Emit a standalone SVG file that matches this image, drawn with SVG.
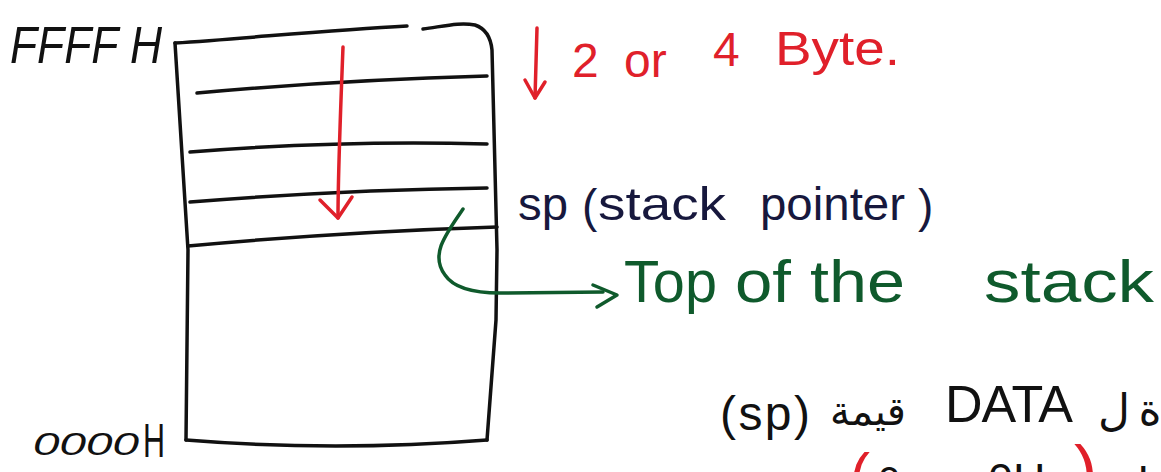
<svg xmlns="http://www.w3.org/2000/svg" width="1161" height="472" viewBox="0 0 1161 472">
<style>
.ln{fill:none;stroke:#111;stroke-width:3.5;stroke-linecap:round;stroke-linejoin:round}
.red{fill:none;stroke:#e0202a;stroke-width:3.5;stroke-linecap:round;stroke-linejoin:round}
.grn{fill:none;stroke:#0f5a2c;stroke-width:3.5;stroke-linecap:round;stroke-linejoin:round}
.t{font-family:"Liberation Sans","DejaVu Sans",sans-serif}
.ar{font-family:"DejaVu Sans","Noto Sans",sans-serif}
.rt{fill:#e0202a;font-size:48px}
.nv{fill:#17183d;font-size:46px}
.gt{fill:#0f5a2c;font-size:60px}
</style>
<rect width="1161" height="472" fill="#fff"/>
<g id="stack">
<path class="ln" d="M175,43 C250,38 330,30 407,26"/>
<path class="ln" d="M423,29 C445,26 460,22 475,25 Q490,30 492,50 L497,250 L496,320 L487,440"/>
<path class="ln" d="M175,43 L188,250 L186,440"/>
<path class="ln" d="M186,440 Q335,452 487,440"/>
<path class="ln" d="M197,93 Q340,80 487,76"/>
<path class="ln" d="M190,152 Q340,140 487,144"/>
<path class="ln" d="M190,202 Q340,190 487,188"/>
<path class="ln" d="M188,246 Q340,232 497,227"/>
</g>
<g id="connectors">
<path class="red" d="M343,47 C341,100 338,170 338,218"/>
<path class="red" d="M320,200 L338,218 L352,197"/>
<path class="red" d="M537,28 L535,98"/>
<path class="red" d="M525,80 L535,98 L545,82"/>
<path class="grn" d="M463,209 C445,235 430,255 445,275 C455,290 480,293 500,293 L603,292"/>
<path class="grn" d="M593,285 L617,295 L597,307"/>
</g>
<g id="label-ffff">
<text class="t" x="10" y="63" font-size="52" font-style="italic" fill="#111" textLength="152" lengthAdjust="spacingAndGlyphs">FFFF H</text>
</g>
<g id="label-0000">
<text class="t" x="33" y="455" font-size="32" font-style="italic" fill="#111" textLength="106" lengthAdjust="spacingAndGlyphs">0000</text>
<text class="t" x="143" y="457" font-size="48" fill="#111" textLength="22" lengthAdjust="spacingAndGlyphs">H</text>
</g>
<g id="label-bytes">
<text class="t rt" x="572" y="77">2</text>
<text class="t rt" x="624" y="77">or</text>
<text class="t rt" x="713" y="66">4</text>
<text class="t rt" x="775" y="65" textLength="125" lengthAdjust="spacingAndGlyphs">Byte.</text>
</g>
<g id="label-sp">
<text class="t nv" x="518" y="220" textLength="50" lengthAdjust="spacingAndGlyphs">sp</text>
<text class="t nv" x="582" y="222">(</text>
<text class="t nv" x="598" y="220" textLength="128" lengthAdjust="spacingAndGlyphs">stack</text>
<text class="t nv" x="760" y="220" textLength="145" lengthAdjust="spacingAndGlyphs">pointer</text>
<text class="t nv" x="918" y="222">)</text>
</g>
<g id="label-top">
<text class="t gt" x="624" y="302" textLength="93" lengthAdjust="spacingAndGlyphs">Top</text>
<text class="t gt" x="735" y="302" textLength="56" lengthAdjust="spacingAndGlyphs">of</text>
<text class="t gt" x="810" y="302" textLength="95" lengthAdjust="spacingAndGlyphs">the</text>
<text class="t gt" x="984" y="302" textLength="170" lengthAdjust="spacingAndGlyphs">stack</text>
</g>
<g id="label-arabic">
<text class="t" x="720" y="430" font-size="48" fill="#111" textLength="90" lengthAdjust="spacing">(sp)</text>
<text class="ar" x="868" y="425" font-size="40" fill="#111" text-anchor="middle">قيمة</text>
<text class="t" x="945" y="422" font-size="52" fill="#111" textLength="128" lengthAdjust="spacing">DATA</text>
<text class="ar" x="1114" y="425" font-size="44" fill="#111" text-anchor="middle">ل</text>
<text class="ar" x="1150" y="425" font-size="44" fill="#111" text-anchor="middle">ة</text>
<text class="t" x="850" y="495" font-size="60" fill="#e0202a">(</text>
<text class="t" x="878" y="495" font-size="40" fill="#111">0</text>
<text class="t" x="988" y="495" font-size="45" fill="#111">0H</text>
<text class="t" x="1074" y="495" font-size="70" fill="#e0202a">)</text>
<text class="ar" x="1137" y="500" font-size="45" fill="#111">ا</text>
</g>
</svg>
